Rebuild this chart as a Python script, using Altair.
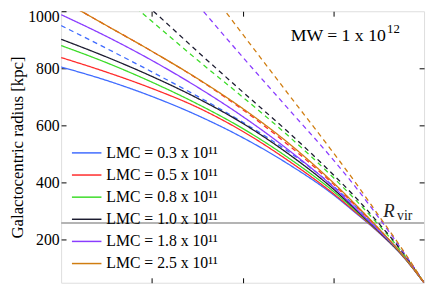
import altair as alt
import pandas as pd

# time grid (Gyr, no labels shown)
t = [-4, -3.5, -3, -2.5, -2, -1.5, -1, -0.75, -0.5, -0.25, 0]

labels = ["LMC = 0.3 x 10¹¹", "LMC = 0.5 x 10¹¹", "LMC = 0.8 x 10¹¹",
          "LMC = 1.0 x 10¹¹", "LMC = 1.8 x 10¹¹", "LMC = 2.5 x 10¹¹"]
colors = ["#3f6bff", "#ff2a2a", "#3cdc28", "#1c1c30", "#8a3cff", "#d07d10"]

solid = [
    [805, 758, 702, 636, 558, 466, 358, 293, 226, 148, 50],
    [838, 787, 730, 664, 580, 478, 362, 296, 227, 149, 50],
    [880, 820, 752, 676, 590, 488, 370, 301, 229, 150, 50],
    [902, 840, 772, 696, 608, 502, 378, 305, 230, 151, 50],
    [988, 912, 828, 735, 632, 516, 385, 309, 232, 152, 50],
    [1040, 950, 860, 765, 660, 540, 400, 322, 240, 152, 50],
]
dashed = [
    [950, 870, 788, 703, 612, 510, 388, 316, 237, 153, 50],
    [1040, 950, 860, 764, 656, 533, 395, 318, 238, 153, 50],
    [1230, 1100, 965, 830, 700, 565, 418, 338, 252, 160, 50],
    [1290, 1145, 1005, 860, 718, 578, 428, 347, 258, 163, 50],
    [1550, 1385, 1210, 1025, 840, 660, 480, 383, 278, 168, 50],
    [1720, 1540, 1340, 1130, 920, 712, 505, 398, 285, 172, 50],
]
r_vir = 259
mw_main = "MW = 1 x 10"
mw_exp = "12"

rows = []
for lab, s, d in zip(labels, solid, dashed):
    for ti, v in zip(t, s):
        rows.append({"t": ti, "r": v, "label": lab, "style": "solid", "key": lab + "s"})
    for ti, v in zip(t, d):
        rows.append({"t": ti, "r": v, "label": lab, "style": "dashed", "key": lab + "d"})
df = pd.DataFrame(rows)

FONT = "Liberation Serif"
xs = alt.Scale(domain=[-4, 0], nice=False, zero=False)
ys = alt.Scale(domain=[50, 1000], nice=False, zero=False)

common_axis = dict(offset=-5, tickSize=5, domain=False, grid=False,
                   tickColor="black", tickWidth=1)

lines = alt.Chart(df).mark_line(strokeWidth=1.3, clip=True, interpolate="monotone").encode(
    x=alt.X("t:Q", scale=xs, axis=alt.Axis(orient="bottom", values=[-3, -2, -1],
                                           labels=False, title=None, **common_axis)),
    y=alt.Y("r:Q", scale=ys, axis=alt.Axis(orient="left", values=[200, 400, 600, 800, 1000],
                                           format="d", labelFlush=True, labelFlushOffset=3,
                                           labelFont=FONT, labelFontSize=16, labelColor="black",
                                           labelPadding=2, title="Galactocentric radius [kpc]",
                                           titleFont=FONT, titleFontSize=17, titleFontWeight="normal",
                                           titleColor="black", titlePadding=1, **common_axis)),
    color=alt.Color("label:N", scale=alt.Scale(domain=labels, range=colors),
                    legend=alt.Legend(title=None, orient="none", legendX=15, legendY=133,
                                      symbolType="M-1.5,0H1.5", symbolSize=400,
                                      symbolStrokeWidth=1.5, labelFont=FONT, labelFontSize=16,
                                      labelColor="black", labelOffset=9, rowPadding=3.5)),
    strokeDash=alt.StrokeDash("style:N", scale=alt.Scale(domain=["solid", "dashed"],
                                                         range=[[1, 0], [5, 4]]), legend=None),
    detail="key:N",
)

mirror = alt.Chart(df).mark_line(opacity=0).encode(
    x=alt.X("t:Q", scale=xs, axis=alt.Axis(orient="top", values=[-3, -2, -1],
                                           labels=False, title=None, **common_axis)),
    y=alt.Y("r:Q", scale=ys, axis=alt.Axis(orient="right", values=[200, 400, 600, 800],
                                           labels=False, title=None, **common_axis)),
    detail="key:N",
)

rule = alt.Chart(pd.DataFrame({"r": [r_vir]})).mark_rule(color="#b4b4b4", strokeWidth=2).encode(
    y=alt.Y("r:Q", scale=ys, axis=None)
)

ann = pd.DataFrame({"t": [-1.47], "r": [895], "txt": [mw_main], "exp": [mw_exp]})
mw_text = alt.Chart(ann).mark_text(align="left", baseline="alphabetic", font=FONT,
                                   fontSize=18, color="black").encode(
    x=alt.X("t:Q", scale=xs, axis=None), y=alt.Y("r:Q", scale=ys, axis=None), text="txt:N")
mw_sup = alt.Chart(ann).mark_text(align="left", baseline="alphabetic", font=FONT,
                                  fontSize=13, dx=98, dy=-8, color="black").encode(
    x=alt.X("t:Q", scale=xs, axis=None), y=alt.Y("r:Q", scale=ys, axis=None), text="exp:N")

rv = pd.DataFrame({"t": [-0.45], "r": [279], "R": ["R"], "sub": ["vir"]})
r_text = alt.Chart(rv).mark_text(align="left", baseline="alphabetic", font=FONT,
                                 fontSize=19, fontStyle="italic", color="#222222").encode(
    x=alt.X("t:Q", scale=xs, axis=None), y=alt.Y("r:Q", scale=ys, axis=None), text="R:N")
sub_text = alt.Chart(rv).mark_text(align="left", baseline="alphabetic", font=FONT,
                                   fontSize=14, dx=14, dy=3, color="#222222").encode(
    x=alt.X("t:Q", scale=xs, axis=None), y=alt.Y("r:Q", scale=ys, axis=None), text="sub:N")

chart = alt.layer(rule, lines, mirror, mw_text, mw_sup, r_text, sub_text).resolve_axis(
    x="independent", y="independent"
).properties(
    width=369, height=276,
    autosize=alt.AutoSizeParams(type="none"),
    padding={"left": 54, "top": 1, "right": 4, "bottom": 0},
).configure_view(stroke="black", strokeWidth=1.5).configure_axis(
    labelFont=FONT, titleFont=FONT
).configure_legend(labelFont=FONT).configure(background="white")

chart.save("out.html", embed_options={"renderer": "svg", "actions": False})
